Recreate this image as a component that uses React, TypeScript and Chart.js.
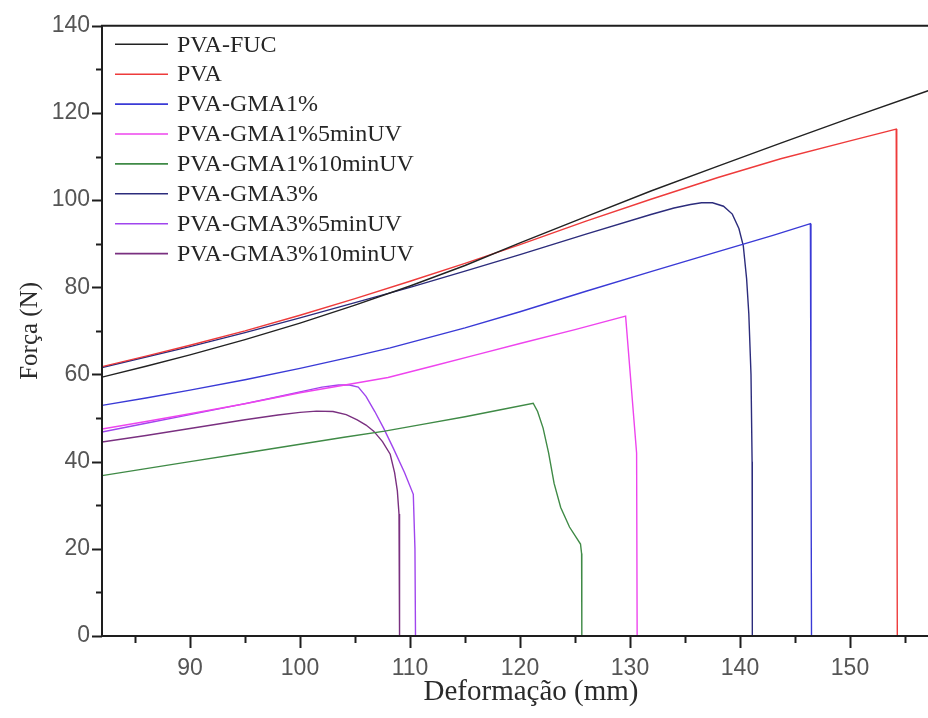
import { useEffect, useRef } from 'react';
import { Chart, registerables } from 'chart.js';

Chart.register(...registerables);

// Axis ticks
const xMajorTicks = [90, 100, 110, 120, 130, 140, 150];
const xMinorTicks = [85, 95, 105, 115, 125, 135, 145, 155];
const yMajorTicks = [0, 20, 40, 60, 80, 100, 120, 140];
const yMinorTicks = [10, 30, 50, 70, 90, 110, 130];

// Series: deformation (mm) and force (N)
const pvaFucX = [82, 86, 90, 95, 100, 105, 110, 115, 120, 126, 131.9, 138, 143.7, 150, 157.1, 159];
const pvaFucY = [59.4, 61.9, 64.5, 68, 71.8, 75.9, 80.3, 85, 90.2, 96.2, 102.1, 107.8, 113.1, 118.8, 125.1, 126.8];

const pvaX = [82, 86, 90, 95, 100, 105, 110, 115, 120, 126, 131.9, 138, 143.7, 150, 154.2, 154.25, 154.3];
const pvaY = [61.8, 64.2, 66.7, 70, 73.6, 77.4, 81.4, 85.5, 89.8, 95.2, 100.2, 105.2, 109.5, 113.6, 116.3, 60, 0];

const gma1X = [82, 86, 90, 95, 100, 105, 108.2, 115, 120, 126, 131.9, 138, 143, 146.4, 146.45, 146.5, 149.2];
const gma1Y = [52.9, 54.6, 56.4, 58.8, 61.4, 64.2, 66.1, 70.7, 74.4, 79.1, 83.6, 88.2, 91.9, 94.6, 50, 0, 0];

const gma1Uv5X = [82, 86, 90, 95, 100, 105, 108, 112, 116, 120, 125, 129.6, 130.6, 130.65];
const gma1Uv5Y = [47.5, 49.2, 51, 53.3, 55.8, 58, 59.3, 61.9, 64.5, 67.1, 70.3, 73.4, 42, 0];

const gma1Uv10X = [82, 86, 90, 95, 100, 104, 107.7, 111, 115, 118, 121.2, 121.6, 122.1, 122.6, 123.1, 123.7, 124.5, 125.5, 125.6, 125.62];
const gma1Uv10Y = [36.8, 38.4, 40, 42, 44, 45.6, 47, 48.5, 50.3, 51.8, 53.4, 51.5, 47.7, 42, 35, 29.5, 25, 21.1, 18.9, 0];

const gma3X = [82, 86, 90, 95, 100, 105, 110, 115, 120, 126, 131.9, 134, 135.5, 136.5, 137.5, 138.5, 139.3, 139.9, 140.3, 140.6, 140.8, 141, 141.1, 141.12];
const gma3Y = [61.6, 64, 66.4, 69.6, 73, 76.5, 80, 83.7, 87.5, 92.2, 96.7, 98.2, 99, 99.4, 99.4, 98.6, 96.8, 93.5, 89.5, 82, 74, 60, 40, 0];

const gma3Uv5X = [82, 86, 90, 95, 98, 100, 102, 103.5, 104.5, 105.3, 106, 106.8, 107.6, 108.5, 109.5, 110.3, 110.45, 110.5];
const gma3Uv5Y = [46.8, 48.8, 50.8, 53.3, 54.9, 56, 57.1, 57.6, 57.6, 57.1, 55, 51.5, 47.7, 43, 37.5, 32.5, 20, 0];

const gma3Uv10X = [82, 86, 90, 95, 98, 100, 101.5, 103, 104.2, 105.2, 106, 106.7, 107.5, 108.2, 108.6, 108.85, 109, 109.05];
const gma3Uv10Y = [44.5, 46, 47.6, 49.6, 50.7, 51.3, 51.6, 51.5, 50.8, 49.6, 48.4, 47, 44.6, 41.7, 37.5, 33.3, 28, 0];

const seriesLabels = [
  'PVA-FUC',
  'PVA',
  'PVA-GMA1%',
  'PVA-GMA1%5minUV',
  'PVA-GMA1%10minUV',
  'PVA-GMA3%',
  'PVA-GMA3%5minUV',
  'PVA-GMA3%10minUV',
];
const seriesX = [pvaFucX, pvaX, gma1X, gma1Uv5X, gma1Uv10X, gma3X, gma3Uv5X, gma3Uv10X];
const seriesY = [pvaFucY, pvaY, gma1Y, gma1Uv5Y, gma1Uv10Y, gma3Y, gma3Uv5Y, gma3Uv10Y];
const seriesColors = ['#222222', '#ee3b3b', '#3a3ad6', '#ee44ee', '#3f8a46', '#2c2c7c', '#a045ee', '#7a3080'];

const SERIF = '"Liberation Serif", "Times New Roman", serif';
const SANS = '"Liberation Sans", Arial, sans-serif';

// Frame, outward tick marks (major and minor) and the in-plot legend
const framePlugin = {
  id: 'frameTicksLegend',
  afterDraw(chart: any) {
    const { ctx, chartArea } = chart;
    const xs = chart.scales.x;
    const ys = chart.scales.y;
    ctx.save();
    ctx.strokeStyle = '#1e1e1e';
    ctx.lineWidth = 2;
    ctx.lineCap = 'butt';
    // frame
    ctx.beginPath();
    ctx.rect(chartArea.left, chartArea.top, chartArea.right - chartArea.left, chartArea.bottom - chartArea.top);
    ctx.stroke();

    const tick = (x1: number, y1: number, x2: number, y2: number) => {
      ctx.beginPath();
      ctx.moveTo(x1, y1);
      ctx.lineTo(x2, y2);
      ctx.stroke();
    };
    xMajorTicks.forEach((v) => {
      const px = Math.round(xs.getPixelForValue(v)) + 0.5;
      tick(px, chartArea.bottom, px, chartArea.bottom + 12);
    });
    xMinorTicks.forEach((v) => {
      const px = Math.round(xs.getPixelForValue(v)) + 0.5;
      tick(px, chartArea.bottom, px, chartArea.bottom + 7);
    });
    yMajorTicks.forEach((v) => {
      const py = Math.round(ys.getPixelForValue(v)) + 0.5;
      tick(chartArea.left, py, chartArea.left - 10, py);
    });
    yMinorTicks.forEach((v) => {
      const py = Math.round(ys.getPixelForValue(v)) + 0.5;
      tick(chartArea.left, py, chartArea.left - 6, py);
    });

    // legend
    const x0 = chartArea.left + 13;
    const lineLen = 53;
    const textX = x0 + lineLen + 9;
    const rowY0 = chartArea.top + 18.5;
    const rowGap = 29.9;
    ctx.font = `24px ${SERIF}`;
    ctx.textBaseline = 'middle';
    ctx.textAlign = 'left';
    chart.data.datasets.forEach((ds: any, i: number) => {
      const y = rowY0 + i * rowGap;
      ctx.strokeStyle = ds.borderColor;
      ctx.lineWidth = 1.6;
      tick(x0, y, x0 + lineLen, y);
      ctx.fillStyle = '#262626';
      ctx.fillText(ds.label, textX, y + 1);
    });
    ctx.restore();
  },
};

export default function App() {
  const canvasRef = useRef<HTMLCanvasElement | null>(null);

  useEffect(() => {
    if (!canvasRef.current) return;
    const datasets = seriesLabels.map((label, i) => ({
      label,
      data: seriesX[i].map((x, j) => ({ x, y: seriesY[i][j] })),
      borderColor: seriesColors[i],
      backgroundColor: seriesColors[i],
      borderWidth: 1.4,
      pointRadius: 0,
      showLine: true,
      tension: 0,
      fill: false,
    }));

    const chart = new Chart(canvasRef.current, {
      type: 'scatter',
      data: { datasets },
      options: {
        animation: false,
        responsive: false,
        devicePixelRatio: 1,
        layout: { padding: { top: 22, right: 5, left: 0, bottom: 0 } },
        plugins: {
          legend: { display: false },
          tooltip: { enabled: false },
        },
        scales: {
          x: {
            type: 'linear',
            min: 82,
            max: 160,
            afterBuildTicks: (s: any) => {
              s.ticks = xMajorTicks.map((v) => ({ value: v }));
            },
            afterFit: (s: any) => {
              s.height = 82;
            },
            grid: { display: false, drawTicks: false },
            border: { display: false },
            ticks: {
              padding: 19,
              color: '#555555',
              font: { family: SANS, size: 23 },
              maxRotation: 0,
            },
            title: {
              display: true,
              text: 'Deformação (mm)',
              color: '#2a2a2a',
              font: { family: SERIF, size: 29 },
              padding: { top: 0, bottom: 8 },
            },
          },
          y: {
            type: 'linear',
            min: 0,
            max: 140,
            afterBuildTicks: (s: any) => {
              s.ticks = yMajorTicks.map((v) => ({ value: v }));
            },
            afterFit: (s: any) => {
              s.width = 102;
            },
            grid: { display: false, drawTicks: false },
            border: { display: false },
            ticks: {
              padding: 12,
              color: '#555555',
              font: { family: SANS, size: 23 },
            },
            title: {
              display: true,
              text: 'Força (N)',
              color: '#2a2a2a',
              font: { family: SERIF, size: 25 },
              padding: { top: 15, bottom: 0 },
            },
          },
        },
      },
      plugins: [framePlugin],
    });
    return () => chart.destroy();
  }, []);

  return (
    <div
      style={{
        position: 'fixed',
        left: 0,
        top: 0,
        width: 928,
        height: 718,
        overflow: 'hidden',
        background: '#ffffff',
      }}
    >
      <canvas ref={canvasRef} width={965} height={718} style={{ display: 'block', width: 965, height: 718 }} />
    </div>
  );
}
